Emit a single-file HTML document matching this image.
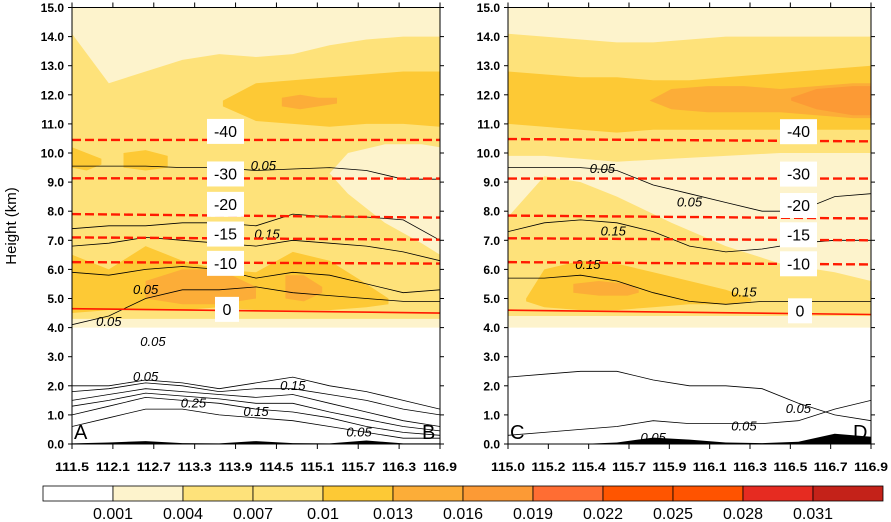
<!DOCTYPE html>
<html><head><meta charset="utf-8"><style>
html,body{margin:0;padding:0;background:#fff;}
svg{display:block;font-family:"Liberation Sans",sans-serif;}
</style></head><body>
<svg id="chart" width="891" height="522" viewBox="0 0 891 522" xmlns="http://www.w3.org/2000/svg"></svg>
<script>
// ---- data ----
const yTicks = [0,1,2,3,4,5,6,7,8,9,10,11,12,13,14,15];
const xTicksL = ["111.5","112.1","112.7","113.3","113.9","114.5","115.1","115.7","116.3","116.9"];
const xTicksR = ["115.0","115.2","115.4","115.7","115.9","116.1","116.3","116.5","116.7","116.9"];
const levels = ["0.001","0.004","0.007","0.01","0.013","0.016","0.019","0.022","0.025","0.028","0.031"];
const levelColors = ["#ffffff","#fdf3cc","#fee27a","#fee27a","#fdc935","#fcad38","#fc9a35","#ff6d33","#ff5500","#ff5300","#e62b21","#c42219"];
const isoLabels = ["-40","-30","-20","-15","-10","0"];
const isoLStart = [10.45,9.13,7.9,7.1,6.25,4.65];
const isoLEnd = [10.45,9.12,7.78,7.02,6.2,4.5];
const isoRStart = [10.48,9.12,7.85,7.07,6.25,4.6];
const isoREnd = [10.4,9.12,7.75,7.0,6.17,4.45];
const F = [0,0.1,0.2,0.3,0.4,0.5,0.6,0.7,0.8,0.9,1];
// filled layers: [xs fractions, top heights, bottom heights, level index]
const layersL = [
 [F,[15,15,15,15,15,15,15,15,15,15,15],[4,4,4,4,4,4,4,4,4,4,4],1],
 [F,[14.1,12.4,12.8,13.2,13.4,13.3,13.4,13.7,13.9,14.0,14.0],[4.3,4.3,4.3,4.3,4.3,4.3,4.3,4.3,4.3,4.3,4.3],2],
 [[0.7,0.75,0.85,0.95,1],[9.3,10.0,10.3,10.3,10.2],[9.3,8.6,7.6,6.9,6.5],1],
 [[0.41,0.5,0.6,0.7,0.8,0.9,1],[11.8,12.4,12.5,12.6,12.7,12.8,12.8],[11.6,11.1,11.0,10.9,11.0,11.0,10.9],4],
 [[0.57,0.62,0.67,0.72],[11.9,12.0,11.9,11.9],[11.6,11.5,11.6,11.7],5],
 [[0,0.04,0.08],[10.2,10.0,9.8],[9.5,9.4,9.6],4],
 [[0.14,0.2,0.26],[10.0,10.1,9.9],[9.5,9.4,9.5],4],
 [[0,0.1,0.2,0.3,0.4,0.5,0.6,0.7,0.8,0.86],[6.5,6.0,6.8,6.3,6.0,5.9,6.6,6.3,5.5,5.0],[4.5,4.6,4.6,4.6,4.7,4.6,4.6,4.6,4.7,4.8],4],
 [[0.2,0.3,0.4,0.5],[5.6,6.0,6.0,5.4],[5.0,4.8,4.8,5.0],5],
 [[0.58,0.63,0.68],[5.8,5.8,5.4],[5.0,4.9,5.2],5]
];
const layersR = [
 [F,[15,15,15,15,15,15,15,15,15,15,15],[4,4,4,4,4,4,4,4,4,4,4],1],
 [F,[14.1,14.0,13.9,13.8,13.8,13.9,14.0,14.0,14.0,14.0,14.0],[4.4,4.4,4.4,4.4,4.4,4.4,4.4,4.4,4.4,4.4,4.4],2],
 [[0,0.1,0.2,0.3,0.45,0.6,0.75,0.9,1],[9.9,9.9,9.8,9.7,9.8,9.9,10.0,10.0,10.0],[7.8,9.2,9.0,8.5,7.6,6.8,6.2,5.9,5.6],1],
 [F,[12.8,12.7,12.6,12.6,12.5,12.5,12.6,12.7,12.8,12.9,13.0],[11.0,10.9,10.8,10.7,10.8,10.8,10.8,10.8,10.8,10.8,10.8],4],
 [[0.39,0.45,0.55,0.65,0.75,0.85,0.95,1],[11.8,12.2,12.3,12.3,12.2,12.3,12.4,12.4],[11.8,11.5,11.4,11.4,11.4,11.3,11.2,11.2],5],
 [[0.78,0.85,0.95,1],[11.9,12.2,12.3,12.3],[11.8,11.5,11.3,11.3],6],
 [[0.05,0.1,0.2,0.3,0.4,0.5,0.6,0.67],[5.0,6.0,6.3,6.2,5.9,5.6,5.3,5.0],[4.9,4.7,4.6,4.6,4.7,4.8,4.8,4.9],4],
 [[0.18,0.25,0.33,0.36],[5.5,5.6,5.5,5.3],[5.2,5.1,5.1,5.2],5]
];
// contour lines: heights at F
const contoursL = [
 [9.55,9.55,9.55,9.5,9.5,9.4,9.45,9.5,9.4,9.1,9.1],
 [7.4,7.5,7.5,7.6,7.6,7.5,7.9,7.8,7.8,7.7,7.0],
 [6.8,6.9,7.1,7.0,6.9,6.8,7.0,6.9,6.8,6.6,6.3],
 [5.9,5.8,6.0,6.1,6.0,5.7,5.9,5.8,5.5,5.2,5.3],
 [4.1,4.4,5.0,5.3,5.3,5.4,5.2,5.1,5.0,4.9,4.9],
 [2.0,2.0,2.2,2.1,1.9,2.1,2.3,2.0,1.8,1.5,1.2],
 [1.8,1.9,2.1,2.0,1.8,1.9,1.9,1.7,1.5,1.2,1.0],
 [1.5,1.7,1.9,1.8,1.7,1.6,1.7,1.4,1.1,0.8,0.6],
 [1.3,1.5,1.75,1.65,1.55,1.4,1.4,1.1,0.85,0.6,0.45],
 [1.0,1.3,1.6,1.5,1.4,1.2,1.1,0.9,0.6,0.4,0.3],
 [0.6,0.9,1.2,1.2,1.0,0.9,0.8,0.6,0.4,0.2,0.2]
];
const contoursR = [
 [9.5,9.5,9.5,9.4,8.9,8.6,8.3,8.0,8.0,8.5,8.6],
 [7.3,7.6,7.7,7.6,7.3,6.8,6.6,6.7,6.9,7.0,7.0],
 [5.7,5.7,5.8,5.6,5.2,4.9,4.8,4.9,4.9,4.9,4.9],
 [2.3,2.4,2.5,2.5,2.2,2.0,2.0,1.9,1.4,1.0,0.8],
 [0.3,0.4,0.5,0.6,0.8,0.7,0.7,0.7,0.8,1.2,1.5]
];
const terrainL = [0.02,0.05,0.1,0.03,0.02,0.1,0.03,0.02,0.12,0.02,0.02];
const terrainR = [0,0,0,0.05,0.22,0.15,0.05,0.03,0.08,0.35,0.25];
const contourTextL = [["0.05",0.52,9.55],["0.15",0.53,7.2],["0.15",0.4,6.3],["0.05",0.2,5.3],["0.05",0.1,4.2],["0.05",0.22,3.5],["0.05",0.2,2.3],["0.15",0.6,2.0],["0.25",0.33,1.4],["0.15",0.5,1.1],["0.05",0.78,0.4]];
const contourTextR = [["0.05",0.26,9.45],["0.05",0.5,8.3],["0.15",0.29,7.3],["0.15",0.22,6.15],["0.15",0.65,5.2],["0.05",0.65,0.6],["0.05",0.4,0.2],["0.05",0.8,1.2]];

// ---- layout ----
const svg = document.getElementById('chart');
const NS = 'http://www.w3.org/2000/svg';
const Y0 = 444, PXKM = 29.1;
const panels = [{x0:72,x1:440,id:'left'},{x0:508,x1:871,id:'right'}];
function sy(km){return Y0 - km*PXKM;}
function sx(p,f){return p.x0 + f*(p.x1-p.x0);}
function mk(tag,attrs,parent){const e=document.createElementNS(NS,tag);for(const k in attrs)e.setAttribute(k,attrs[k]);(parent||svg).appendChild(e);return e;}

function drawPanel(p, layers, contours, ctext, terrain, xticks, isoS, isoE, letters){
  const g = mk('g',{});
  
  
  const clipId='clip-'+p.id;
  const cp=mk('clipPath',{id:clipId},g);
  mk('rect',{x:p.x0,y:sy(15),width:p.x1-p.x0,height:sy(0)-sy(15)},cp);
  const inner = mk('g',{'clip-path':'url(#'+clipId+')'},g);
  layers.forEach((L,i)=>{
    const xs=L[0],top=L[1],bot=L[2];
    let d='M'+xs.map((f,j)=>sx(p,f).toFixed(1)+','+sy(top[j]).toFixed(1)).join(' L');
    for(let j=xs.length-1;j>=0;j--) d+=' L'+sx(p,xs[j]).toFixed(1)+','+sy(bot[j]).toFixed(1);
    const e=mk('path',{d:d+'Z',fill:levelColors[L[3]]},inner);
    
    
  });
  contours.forEach(c=>{
    const d='M'+F.map((f,j)=>sx(p,f).toFixed(1)+','+sy(c[j]).toFixed(1)).join(' L');
    const e=mk('path',{d:d,fill:'none',stroke:'#000','stroke-width':0.8},inner);
    
    
  });
  ctext.forEach(t=>{
    const e=mk('text',{x:sx(p,t[1]),y:sy(t[2])+4,'font-size':13,'font-style':'italic','text-anchor':'middle',fill:'#000'},inner);
    e.textContent=t[0];
    
    
  });
  let td='M'+sx(p,0)+','+sy(0)+' L'+F.map((f,j)=>sx(p,f).toFixed(1)+','+sy(terrain[j]).toFixed(1)).join(' L')+' L'+sx(p,1)+','+sy(0)+'Z';
  const te=mk('path',{d:td,fill:'#000'},inner);
  
  
  const boxX = p.id==='left'?207:780;
  isoS.forEach((h,i)=>{
    const dashed = isoLabels[i]!=='0';
    const l=mk('line',{x1:p.x0,y1:sy(h),x2:p.x1,y2:sy(isoE[i]),stroke:'#ff1a00','stroke-width':dashed?2.4:1.6,'stroke-dasharray':dashed?'9,4':'none'},inner);
    
    
  });
  isoS.forEach((h,i)=>{
    const yy = sy((h+isoE[i])/2);
    const zero = isoLabels[i]==='0';
    const bw = zero?24:37, bx = zero?boxX+8:boxX;
    const by = zero? yy-14 : (i===0? yy-21 : i===1? yy-17 : i===2? yy-24 : i===3? yy-17 : yy-12);
    const r=mk('rect',{x:bx,y:by,width:bw,height:25,fill:'#fff'},g);
    
    
    const t=mk('text',{x:bx+bw/2,y:by+18,'font-size':16,'text-anchor':'middle',fill:'#000'},g);
    t.textContent=isoLabels[i];
    
    
  });
  const fr=mk('rect',{x:p.x0,y:sy(15),width:p.x1-p.x0,height:sy(0)-sy(15),fill:'none',stroke:'#000','stroke-width':1},g);
  
  
  yTicks.forEach(v=>{
    mk('line',{x1:p.x0-4,y1:sy(v),x2:p.x0,y2:sy(v),stroke:'#000'},g);
    mk('line',{x1:p.x1,y1:sy(v),x2:p.x1+4,y2:sy(v),stroke:'#000'},g);
    const t=mk('text',{x:p.x0-8,y:sy(v)+4.5,'font-size':12,'font-weight':'bold','text-anchor':'end',fill:'#000'},g);
    t.textContent=v.toFixed(1);
    
    
  });
  xticks.forEach((lab,i)=>{
    const x=sx(p,i/(xticks.length-1));
    mk('line',{x1:x,y1:sy(0),x2:x,y2:sy(0)+5,stroke:'#000'},g);
    mk('line',{x1:x,y1:sy(15)-5,x2:x,y2:sy(15),stroke:'#000'},g);
    const t=mk('text',{x:x,y:471,'font-size':12,'font-weight':'bold','text-anchor':'middle',fill:'#000',textLength:34,lengthAdjust:'spacingAndGlyphs'},g);
    t.textContent=lab;
    
    
  });
  letters.forEach((L,i)=>{
    const t=mk('text',{x:i===0?p.x0+2:p.x1-18,y:sy(0)-5,'font-size':20,fill:'#000'},g);
    t.textContent=L;
    
    
  });
}
drawPanel(panels[0],layersL,contoursL,contourTextL,terrainL,xTicksL,isoLStart,isoLEnd,['A','B']);
drawPanel(panels[1],layersR,contoursR,contourTextR,terrainR,xTicksR,isoRStart,isoREnd,['C','D']);

const yt=mk('text',{x:0,y:0,'font-size':15,'text-anchor':'middle',transform:'translate(16,226) rotate(-90)',fill:'#000'});
yt.textContent='Height (km)';



const cbX0=43, cbX1=883, cbY=486, cbH=15, n=levelColors.length, bw=(cbX1-cbX0)/n;
levelColors.forEach((c,i)=>{
  const r=mk('rect',{x:cbX0+i*bw,y:cbY,width:bw,height:cbH,fill:c,stroke:'#000','stroke-width':0.8});
  
  
});
levels.forEach((lab,i)=>{
  const t=mk('text',{x:cbX0+(i+1)*bw,y:519,'font-size':16,'text-anchor':'middle',fill:'#000',textLength:lab.length*8,lengthAdjust:'spacingAndGlyphs'});
  t.textContent=lab;
  
  
});
</script>
</body></html>
